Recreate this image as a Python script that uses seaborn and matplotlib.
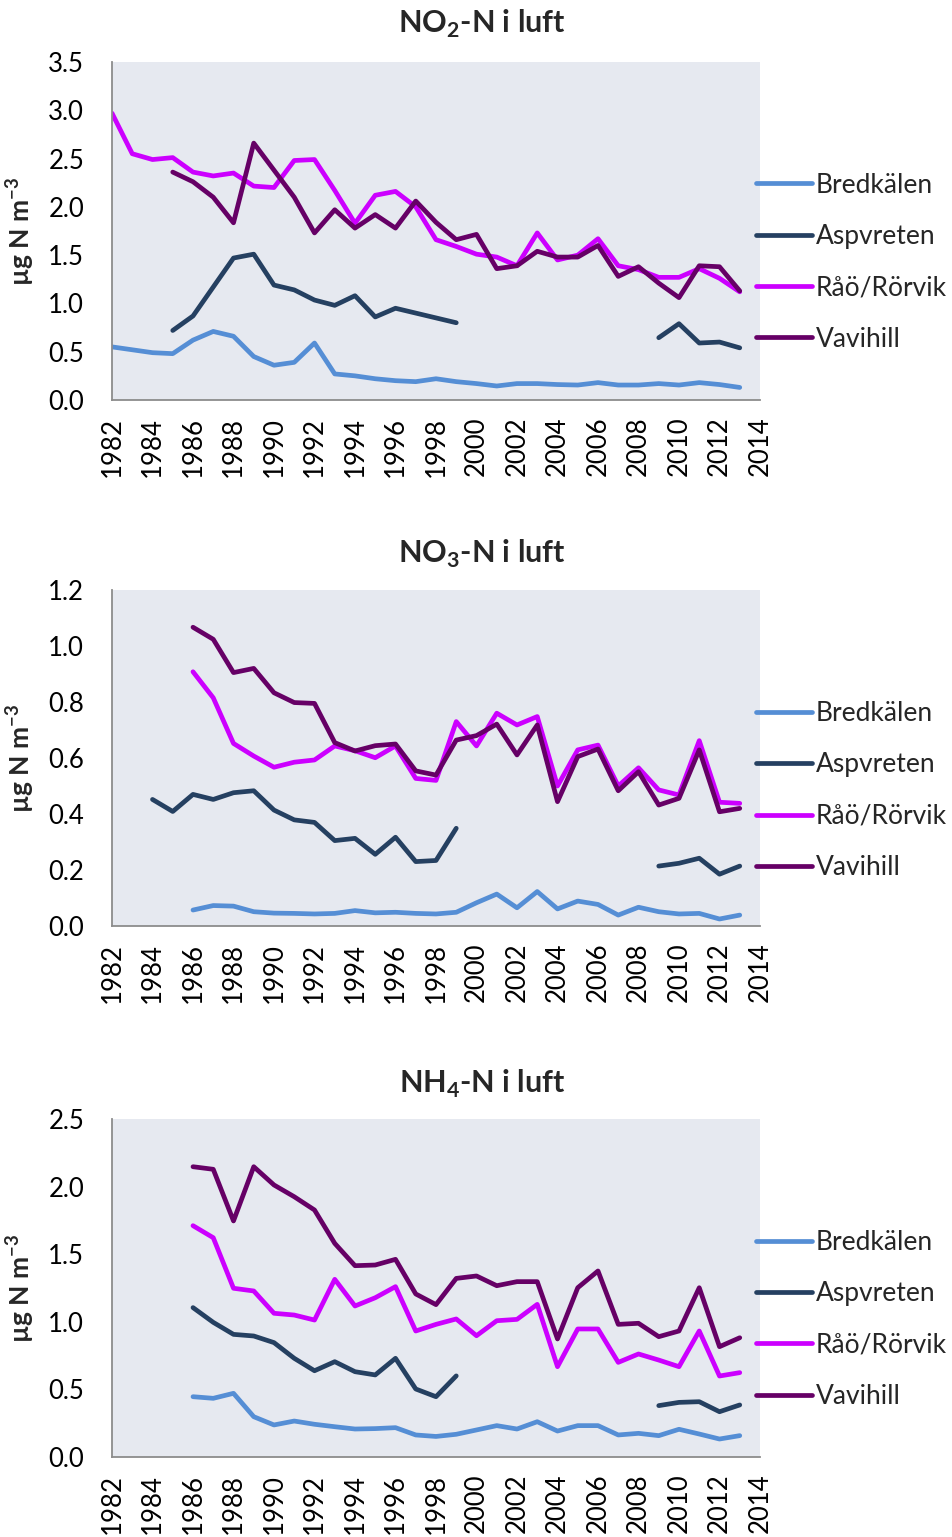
import matplotlib
matplotlib.use("Agg")
import matplotlib.pyplot as plt
import numpy as np
import pandas as pd
import seaborn as sns

# ---- data -------------------------------------------------------------
years = list(range(1982, 2014))
stations = ["Bredkälen", "Aspvreten", "Råö/Rörvik", "Vavihill"]
colors = ["#558ED5", "#254061", "#CC00FF", "#660066"]
N = None

# NO2-N (µg N m-3)
no2_bredkalen = [0.55, 0.52, 0.49, 0.48, 0.62, 0.71, 0.66, 0.45, 0.36, 0.39, 0.59, 0.27,
                 0.25, 0.22, 0.20, 0.19, 0.22, 0.19, 0.17, 0.145, 0.17, 0.17, 0.16, 0.155,
                 0.18, 0.155, 0.155, 0.17, 0.155, 0.18, 0.16, 0.13]
no2_aspvreten = [N, N, N, 0.72, 0.87, 1.17, 1.47, 1.51, 1.19, 1.14, 1.035, 0.98, 1.08,
                 0.86, 0.95, 0.90, 0.85, 0.80, N, N, N, N, N, N, N, N, N,
                 0.645, 0.79, 0.59, 0.60, 0.54]
no2_rao = [2.97, 2.55, 2.49, 2.51, 2.36, 2.32, 2.35, 2.215, 2.20, 2.48, 2.49, 2.17, 1.83,
           2.12, 2.16, 2.00, 1.66, 1.59, 1.51, 1.48, 1.39, 1.73, 1.45, 1.50, 1.67, 1.39,
           1.35, 1.27, 1.27, 1.36, 1.26, 1.12]
no2_vavihill = [N, N, N, 2.36, 2.26, 2.10, 1.835, 2.66, 2.38, 2.10, 1.73, 1.97, 1.78,
                1.92, 1.78, 2.06, 1.84, 1.66, 1.715, 1.36, 1.39, 1.54, 1.48, 1.48, 1.60,
                1.28, 1.38, 1.21, 1.06, 1.39, 1.38, 1.13]

# NO3-N (µg N m-3)
no3_bredkalen = [N, N, N, N, 0.057, 0.073, 0.071, 0.051, 0.046, 0.045, 0.043, 0.045,
                 0.055, 0.047, 0.049, 0.045, 0.043, 0.049, 0.083, 0.114, 0.065, 0.123,
                 0.061, 0.089, 0.077, 0.039, 0.067, 0.051, 0.043, 0.045, 0.025, 0.039]
no3_aspvreten = [N, N, 0.452, 0.409, 0.47, 0.452, 0.476, 0.483, 0.414, 0.379, 0.37, 0.305,
                 0.313, 0.256, 0.317, 0.23, 0.234, 0.349, N, N, N, N, N, N, N, N, N,
                 0.214, 0.224, 0.242, 0.185, 0.214]
no3_rao = [N, N, N, N, 0.908, 0.815, 0.652, 0.607, 0.567, 0.585, 0.593, 0.643, 0.626,
           0.601, 0.643, 0.527, 0.52, 0.73, 0.643, 0.76, 0.718, 0.748, 0.50, 0.629,
           0.646, 0.50, 0.565, 0.486, 0.468, 0.662, 0.442, 0.438]
no3_vavihill = [N, N, N, N, 1.067, 1.024, 0.905, 0.92, 0.833, 0.798, 0.795, 0.655, 0.625,
                0.644, 0.65, 0.554, 0.539, 0.664, 0.68, 0.721, 0.611, 0.718, 0.444, 0.605,
                0.632, 0.483, 0.551, 0.432, 0.456, 0.629, 0.408, 0.42]

# NH4-N (µg N m-3)
nh4_bredkalen = [N, N, N, N, 0.446, 0.434, 0.471, 0.298, 0.237, 0.266, 0.242, 0.224,
                 0.207, 0.21, 0.217, 0.163, 0.152, 0.168, 0.2, 0.232, 0.207, 0.261, 0.192,
                 0.232, 0.232, 0.163, 0.175, 0.158, 0.205, 0.17, 0.133, 0.158]
nh4_aspvreten = [N, N, N, N, 1.105, 0.996, 0.907, 0.895, 0.846, 0.73, 0.638, 0.705, 0.631,
                 0.607, 0.73, 0.503, 0.446, 0.60, N, N, N, N, N, N, N, N, N,
                 0.38, 0.404, 0.409, 0.335, 0.385]
nh4_rao = [N, N, N, N, 1.711, 1.622, 1.248, 1.228, 1.063, 1.05, 1.013, 1.314, 1.117,
           1.178, 1.26, 0.932, 0.981, 1.021, 0.897, 1.008, 1.018, 1.129, 0.668, 0.947,
           0.947, 0.70, 0.762, 0.717, 0.668, 0.932, 0.599, 0.624]
nh4_vavihill = [N, N, N, N, 2.147, 2.128, 1.746, 2.147, 2.012, 1.925, 1.827, 1.58, 1.415,
                1.42, 1.462, 1.206, 1.127, 1.321, 1.339, 1.267, 1.297, 1.297, 0.873, 1.252,
                1.376, 0.981, 0.989, 0.89, 0.932, 1.252, 0.816, 0.882]

titles = [r"NO$_\mathregular{2}$-N i luft", r"NO$_\mathregular{3}$-N i luft",
          r"NH$_\mathregular{4}$-N i luft"]
ylims = [3.5, 1.2, 2.5]
ysteps = [0.5, 0.2, 0.5]
x_ticks = list(range(1982, 2015, 2))

panels = [
    [no2_bredkalen, no2_aspvreten, no2_rao, no2_vavihill],
    [no3_bredkalen, no3_aspvreten, no3_rao, no3_vavihill],
    [nh4_bredkalen, nh4_aspvreten, nh4_rao, nh4_vavihill],
]


def long_frame(series_list):
    """Long-form table; each unbroken run of values gets its own segment id."""
    rows = []
    for name, values in zip(stations, series_list):
        seg = 0
        prev_missing = True
        for yr, v in zip(years, values):
            if v is None:
                prev_missing = True
                continue
            if prev_missing:
                seg += 1
                prev_missing = False
            rows.append({"year": yr, "value": v, "station": name,
                         "segment": f"{name}-{seg}"})
    return pd.DataFrame(rows)


# ---- style ------------------------------------------------------------
sns.set_theme(style="white")
plt.rcParams["font.family"] = ["Lato", "DejaVu Sans"]
plt.rcParams["mathtext.fontset"] = "custom"
plt.rcParams["mathtext.rm"] = "Lato"

W, H = 953, 1537
fig = plt.figure(figsize=(W / 100, H / 100), dpi=100)
fig.patch.set_facecolor("white")

ax_left, ax_right = 112, 760
ax_boxes = [(62, 400), (590, 926), (1119, 1457)]
title_baselines = [33, 563, 1093]
legend_centers = [0.408, 0.403, 0.407]
palette = dict(zip(stations, colors))
LW = 3.4
TICK_FS = 18.5

for i, (series_list, (top, bottom)) in enumerate(zip(panels, ax_boxes)):
    ax = fig.add_axes([ax_left / W, 1 - bottom / H, (ax_right - ax_left) / W,
                       (bottom - top) / H])
    ax.set_facecolor("#E6E9F0")
    df = long_frame(series_list)
    sns.lineplot(data=df, x="year", y="value", hue="station", hue_order=stations,
                 units="segment", estimator=None, palette=palette, linewidth=LW,
                 solid_capstyle="round", solid_joinstyle="round", ax=ax, legend=True)

    ax.set_xlim(1982, 2014)
    ax.set_ylim(0, ylims[i])
    ax.set_xticks(x_ticks)
    ax.set_xticklabels([str(t) for t in x_ticks], rotation=90, fontsize=TICK_FS)
    yt = np.round(np.arange(0, ylims[i] + 1e-9, ysteps[i]), 2)
    ax.set_yticks(yt)
    ax.set_yticklabels([f"{v:.1f}" for v in yt], fontsize=TICK_FS)
    ax.tick_params(axis="both", length=0, colors="black")
    ax.tick_params(axis="y", pad=20)
    ax.tick_params(axis="x", pad=12)

    for side in ("top", "right"):
        ax.spines[side].set_visible(False)
    for side in ("left", "bottom"):
        ax.spines[side].set_color("#8C8C8C")
        ax.spines[side].set_linewidth(1.3)

    ax.set_xlabel("")
    ax.set_ylabel(r"µg N m$^{\mathregular{-3}}$", fontsize=19, fontweight="bold")
    ax.yaxis.set_label_coords((37 - ax_left) / (ax_right - ax_left), 0.5)

    handles, labels = ax.get_legend_handles_labels()
    leg = ax.legend(handles, labels, loc="center left",
                    bbox_to_anchor=(1.0 - 4 / (ax_right - ax_left), legend_centers[i]),
                    frameon=False, borderaxespad=0, borderpad=0, handlelength=2.12,
                    handletextpad=0.15, labelspacing=1.0, fontsize=19)
    for line in leg.get_lines():
        line.set_linewidth(LW)
        line.set_solid_capstyle("round")

    fig.text(482 / W, 1 - title_baselines[i] / H, titles[i], ha="center",
             va="baseline", fontsize=22, fontweight="bold")

fig.savefig("out.png", dpi=100, facecolor="white")
